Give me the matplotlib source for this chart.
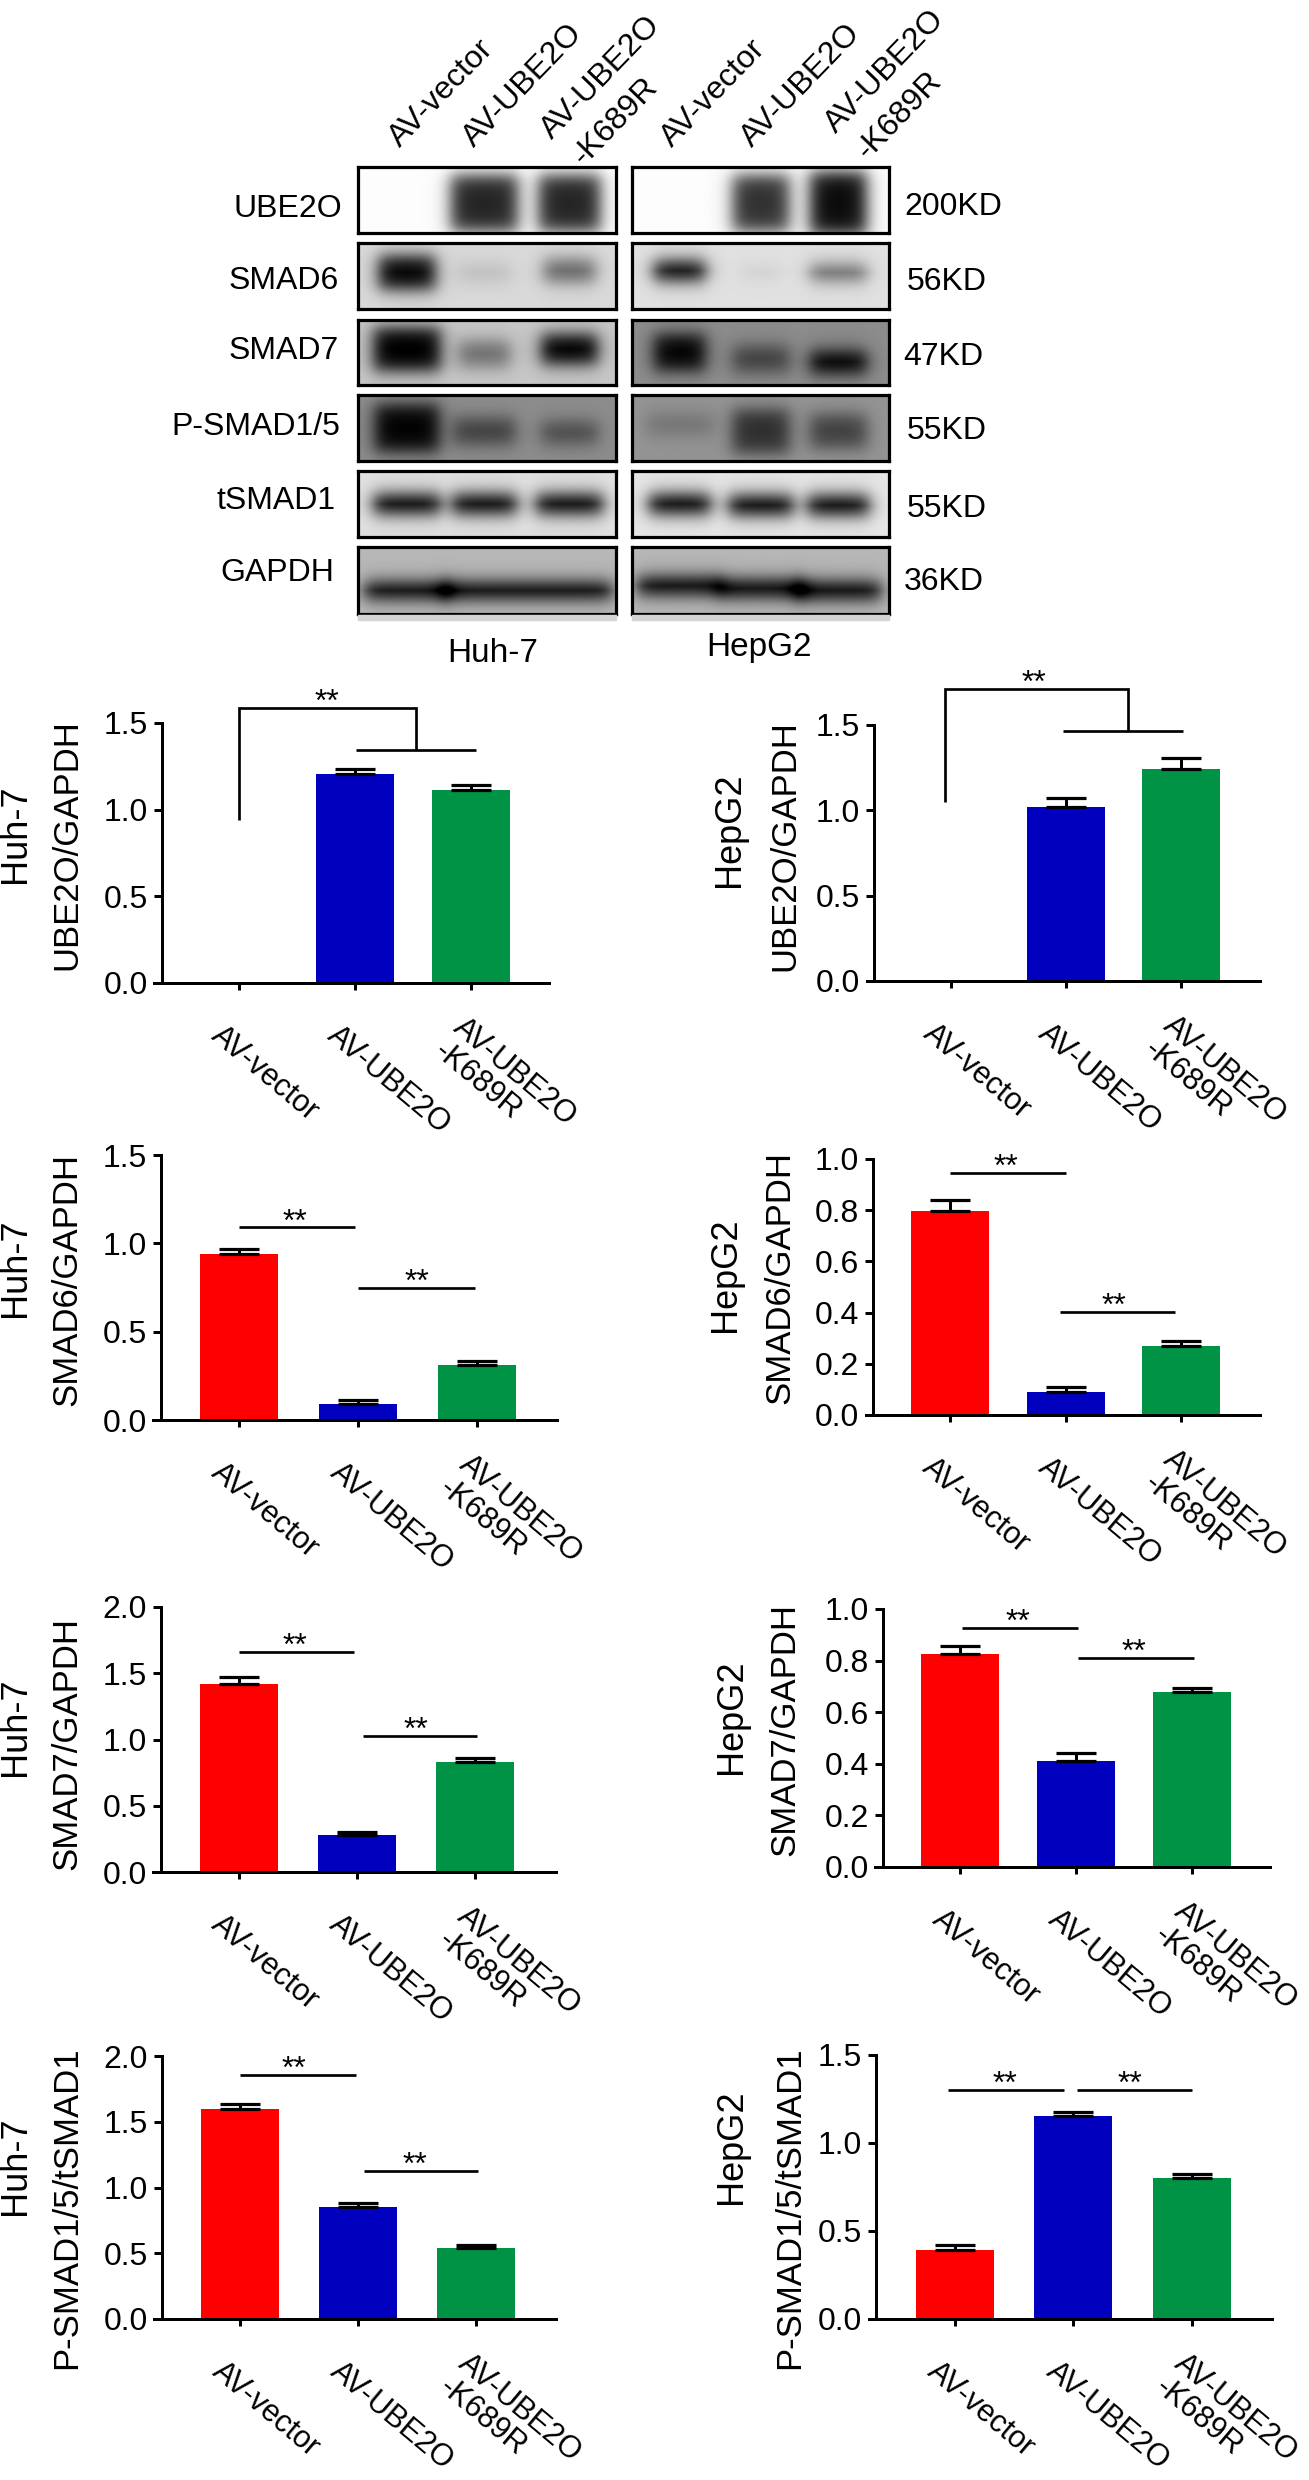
import numpy as np
import matplotlib
matplotlib.use("Agg")
import matplotlib.pyplot as plt
from matplotlib.patches import Rectangle
from matplotlib.transforms import ScaledTranslation

plt.rcParams['font.family'] = ['Liberation Sans', 'DejaVu Sans']

W, H = 1309, 2480
DPI = 100
PX = 72 / DPI

groups = ['AV-vector', 'AV-UBE2O', 'AV-UBE2O\n-K689R']
bar_colors = ['#FF0000', '#0000BE', '#009245']

huh_ube2o = [0.0, 1.205, 1.115]
huh_ube2o_err = [0.0, 0.03, 0.025]
hep_ube2o = [0.0, 1.02, 1.244]
hep_ube2o_err = [0.0, 0.055, 0.06]
huh_smad6 = [0.94, 0.09, 0.31]
huh_smad6_err = [0.03, 0.025, 0.025]
hep_smad6 = [0.795, 0.088, 0.27]
hep_smad6_err = [0.045, 0.02, 0.02]
huh_smad7 = [1.42, 0.28, 0.83]
huh_smad7_err = [0.05, 0.02, 0.03]
hep_smad7 = [0.825, 0.41, 0.68]
hep_smad7_err = [0.03, 0.03, 0.015]
huh_psmad = [1.60, 0.85, 0.54]
huh_psmad_err = [0.035, 0.035, 0.025]
hep_psmad = [0.39, 1.155, 0.80]
hep_psmad_err = [0.03, 0.02, 0.025]

blot_names = ['UBE2O', 'SMAD6', 'SMAD7', 'P-SMAD1/5', 'tSMAD1', 'GAPDH']
blot_sizes = ['200KD', '56KD', '47KD', '55KD', '55KD', '36KD']
# background brightness of each membrane strip
huh_bg = [0.99, 0.85, 0.78, 0.55, 0.88, 0.72]
hep_bg = [0.99, 0.88, 0.55, 0.58, 0.90, 0.72]
# band darkness per lane (3 lanes)
huh_dark = [[0, .85, .85], [.85, .10, .45], [.80, .35, .80], [.55, .30, .25], [.88, .88, .88], [.72, .72, .72]]
hep_dark = [[0, .80, .95], [.85, .06, .45], [.55, .30, .55], [.12, .40, .33], [.90, .90, .90], [.72, .72, .72]]
# band vertical centre, as a share of the strip height, per lane
huh_cy = [[.5, .55, .55], [.45, .45, .42], [.45, .52, .45], [.5, .55, .57], [.5, .5, .5], [.65, .65, .65]]
hep_cy = [[.5, .55, .55], [.42, .45, .45], [.5, .6, .65], [.45, .55, .55], [.5, .52, .52], [.58, .62, .65]]
# band thickness, as a share of the strip height, per lane
huh_th = [[.1, .85, .85], [.5, .3, .35], [.65, .4, .45], [.7, .4, .35], [.3, .3, .3], [.25, .25, .25]]
hep_th = [[.1, .85, .95], [.3, .2, .25], [.55, .4, .35], [.35, .65, .5], [.3, .3, .3], [.27, .27, .27]]
# band width, as a share of the strip width, per lane
huh_bw = [[.1, .26, .24], [.22, .2, .2], [.26, .2, .22], [.25, .24, .22], [.26, .25, .26], [.33, .33, .33]]
hep_bw = [[.1, .22, .22], [.2, .15, .22], [.2, .22, .22], [.26, .22, .22], [.24, .25, .24], [.33, .33, .33]]
huh_lanes = [.19, .49, .82]
hep_lanes = [.185, .50, .80]
blot_tops = [167, 243, 320, 395, 471, 547]
blot_bots = [233, 309, 385, 461, 537, 614]
name_right = [342, 339, 339, 340, 336, 334]
name_y = [209, 281, 351, 427, 501, 573]
size_left = [904, 907, 903, 907, 907, 904]
size_y = [207, 282, 357, 431, 509, 582]

top_labels = [(400, 148, 'AV-vector'), (474, 148, 'AV-UBE2O'), (552, 140, 'AV-UBE2O'),
              (584, 166, '-K689R'), (672, 148, 'AV-vector'), (752, 148, 'AV-UBE2O'),
              (836, 134, 'AV-UBE2O'), (868, 160, '-K689R')]

panels = [
    dict(v=huh_ube2o, e=huh_ube2o_err, ymax=1.5, ticks=[0, .5, 1, 1.5], fmt='%.1f', name='UBE2O/GAPDH', cell='Huh-7',
         box=(154, 549, 983, 723), yx=162, c=(239, 471), cx=16, cy=834, lx=67, ly=845,
         lines=[((0, 0, 1.525, 1.525), (.94, 1.585, 1.585, 1.345)), ((1.005, 2.04), (1.345, 1.345))],
         stars=[(.76, 1.585)]),
    dict(v=hep_ube2o, e=hep_ube2o_err, ymax=1.5, ticks=[0, .5, 1, 1.5], fmt='%.1f', name='UBE2O/GAPDH', cell='HepG2',
         box=(867, 1260, 981, 725), yx=874, c=(951, 1181), cx=730, cy=830, lx=785, ly=846,
         lines=[((-.05, -.05, 1.54, 1.54), (1.05, 1.71, 1.71, 1.465)), ((.97, 2.02), (1.465, 1.465))],
         stars=[(.72, 1.71)]),
    dict(v=huh_smad6, e=huh_smad6_err, ymax=1.5, ticks=[0, .5, 1, 1.5], fmt='%.1f', name='SMAD6/GAPDH', cell='Huh-7',
         box=(153, 557, 1420, 1155), yx=161, c=(238.5, 476.7), cx=16, cy=1268, lx=67, ly=1279,
         lines=[((0, .975), (1.09, 1.09)), ((1.005, 1.985), (.747, .747))],
         stars=[(.47, 1.09), (1.5, .747)]),
    dict(v=hep_smad6, e=hep_smad6_err, ymax=1.0, ticks=[0, .2, .4, .6, .8, 1], fmt='%.1f', name='SMAD6/GAPDH', cell='HepG2',
         box=(866, 1260, 1415, 1159), yx=873, c=(950, 1181), cx=725, cy=1275, lx=780, ly=1277,
         lines=[((0, 1), (.945, .945)), ((.95, 1.95), (.403, .403))],
         stars=[(.48, .945), (1.42, .403)]),
    dict(v=huh_smad7, e=huh_smad7_err, ymax=2.0, ticks=[0, .5, 1, 1.5, 2], fmt='%.1f', name='SMAD7/GAPDH', cell='Huh-7',
         box=(153, 556, 1872, 1607), yx=161, c=(238.5, 475), cx=16, cy=1727, lx=67, ly=1743,
         lines=[((0, .98), (1.66, 1.66)), ((1.05, 2.02), (1.026, 1.026))],
         stars=[(.48, 1.66), (1.5, 1.026)]),
    dict(v=hep_smad7, e=hep_smad7_err, ymax=1.0, ticks=[0, .2, .4, .6, .8, 1], fmt='%.1f', name='SMAD7/GAPDH', cell='HepG2',
         box=(875, 1270, 1867, 1609), yx=883, c=(960, 1191.5), cx=731, cy=1717, lx=785, ly=1729,
         lines=[((.02, 1.02), (.926, .926)), ((1.016, 2.02), (.81, .81))],
         stars=[(.5, .926), (1.5, .81)]),
    dict(v=huh_psmad, e=huh_psmad_err, ymax=2.0, ticks=[0, .5, 1, 1.5, 2], fmt='%.1f', name='P-SMAD1/5/tSMAD1', cell='Huh-7',
         box=(154, 556, 2319, 2056), yx=162, c=(240, 476), cx=16, cy=2166, lx=67, ly=2208,
         lines=[((0, .98), (1.855, 1.855)), ((1.05, 2.02), (1.125, 1.125))],
         stars=[(.46, 1.855), (1.48, 1.125)]),
    dict(v=hep_psmad, e=hep_psmad_err, ymax=1.5, ticks=[0, .5, 1, 1.5], fmt='%.1f', name='P-SMAD1/5/tSMAD1', cell='HepG2',
         box=(869, 1272, 2319, 2055), yx=876, c=(954.7, 1192), cx=731, cy=2147, lx=790, ly=2208,
         lines=[((-.06, .92), (1.30, 1.30)), ((1.03, 2.0), (1.30, 1.30))],
         stars=[(.42, 1.30), (1.48, 1.30)]),
]

fig = plt.figure(figsize=(W / DPI, H / DPI), dpi=DPI, facecolor='white')


def ftext(x, y, s, **kw):
    return fig.text(x / W, 1 - y / H, s, **kw)


def band_image(bg, dark, cy, th, bw, lanes, w, h):
    xx, yy = np.meshgrid(np.arange(w) + .5, np.arange(h) + .5)
    img = np.full((h, w), float(bg))
    soft = 5.0
    for lane in range(3):
        x0 = lanes[lane] * w
        y0 = cy[lane] * h
        hw = bw[lane] * w / 2
        hh = th[lane] * h / 2
        mx = 1 / (1 + np.exp((np.abs(xx - x0) - hw) / soft))
        my = 1 / (1 + np.exp((np.abs(yy - y0) - hh) / soft))
        img -= dark[lane] * mx * my
    return np.clip(img, 0, 1)


for (xl, xr, bgs, darks, cys, ths, bws, lanes) in [
    (358, 616, huh_bg, huh_dark, huh_cy, huh_th, huh_bw, huh_lanes),
    (632, 889, hep_bg, hep_dark, hep_cy, hep_th, hep_bw, hep_lanes),
]:
    for r in range(6):
        t, b = blot_tops[r], blot_bots[r]
        ax = fig.add_axes([xl / W, 1 - b / H, (xr - xl) / W, (b - t) / H])
        ax.imshow(band_image(bgs[r], darks[r], cys[r], ths[r], bws[r], lanes, xr - xl, b - t),
                  cmap='gray', vmin=0, vmax=1, aspect='auto', interpolation='bilinear')
        ax.set_xticks([])
        ax.set_yticks([])
        for s in ax.spines.values():
            s.set_linewidth(3.2 * PX)
            s.set_color('black')
    fig.add_artist(Rectangle((xl / W, 1 - 620 / H), (xr - xl) / W, 5 / H, color='#d4d4d4', transform=fig.transFigure))

for r in range(6):
    ftext(name_right[r], name_y[r], blot_names[r], ha='right', va='center', fontsize=23)
    ftext(size_left[r], size_y[r], blot_sizes[r], ha='left', va='center', fontsize=23)

for x, y, s in top_labels:
    ftext(x, y, s, rotation=46, rotation_mode='anchor', ha='left', va='baseline', fontsize=23)
ftext(493, 653, 'Huh-7', ha='center', va='center', fontsize=24)
ftext(759, 648, 'HepG2', ha='center', va='center', fontsize=24)

for p in panels:
    L, R, y0, y1 = p['box']
    c0, c2 = p['c']
    unit = (c2 - c0) / 2
    ax = fig.add_axes([L / W, 1 - y0 / H, (R - L) / W, (y0 - y1) / H])
    ax.patch.set_alpha(0)
    ax.set_xlim((L - c0) / unit, (R - c0) / unit)
    ax.set_ylim(0, p['ymax'])
    xs = np.arange(3)
    bw = 78 / unit
    ax.bar(xs, p['v'], width=bw, color=bar_colors, zorder=2)
    for i in range(3):
        if p['v'][i] > 0:
            ax.errorbar(xs[i], p['v'][i], yerr=[[0], [p['e'][i]]], fmt='none', ecolor='black',
                        elinewidth=3 * PX, capsize=20 * PX, capthick=3.2 * PX, zorder=3, clip_on=False)
    for s in ['top', 'right']:
        ax.spines[s].set_visible(False)
    ax.spines['left'].set_position(('data', (p['yx'] - c0) / unit))
    ax.spines['left'].set_linewidth(3 * PX)
    ax.spines['bottom'].set_linewidth(3 * PX)
    ax.spines['left'].set_zorder(4)
    ax.spines['bottom'].set_zorder(4)
    ax.set_yticks(p['ticks'])
    ax.set_yticklabels([p['fmt'] % t for t in p['ticks']], fontsize=23)
    ax.tick_params(axis='y', length=8 * PX, width=3 * PX, pad=6 * PX)
    ax.set_xticks(xs)
    ax.set_xticklabels(groups, fontsize=22, rotation=-40, ha='left', va='top',
                       rotation_mode='anchor', linespacing=1.05)
    ax.tick_params(axis='x', length=7 * PX, width=3 * PX)
    for i, lab in enumerate(ax.get_xticklabels()):
        dy = 18 if i == 2 else 26
        dx = -4 if i == 2 else -14
        lab.set_transform(lab.get_transform() + ScaledTranslation(dx / DPI, -dy / DPI, fig.dpi_scale_trans))
    for xv, yv in p['lines']:
        ax.plot(xv, yv, color='black', lw=2.7 * PX, clip_on=False, zorder=5, solid_capstyle='butt',
                solid_joinstyle='miter')
    for sx, sy in p['stars']:
        ax.annotate('**', xy=(sx, sy), xytext=(0, -3 * PX), textcoords='offset points', ha='center',
                    va='baseline', fontsize=23, annotation_clip=False)
    ftext(p['cx'], p['cy'], p['cell'], rotation=90, ha='center', va='center', fontsize=26)
    ftext(p['lx'], p['ly'], p['name'], rotation=90, ha='center', va='center', fontsize=25)

fig.savefig('out.png', dpi=DPI, facecolor='white')
